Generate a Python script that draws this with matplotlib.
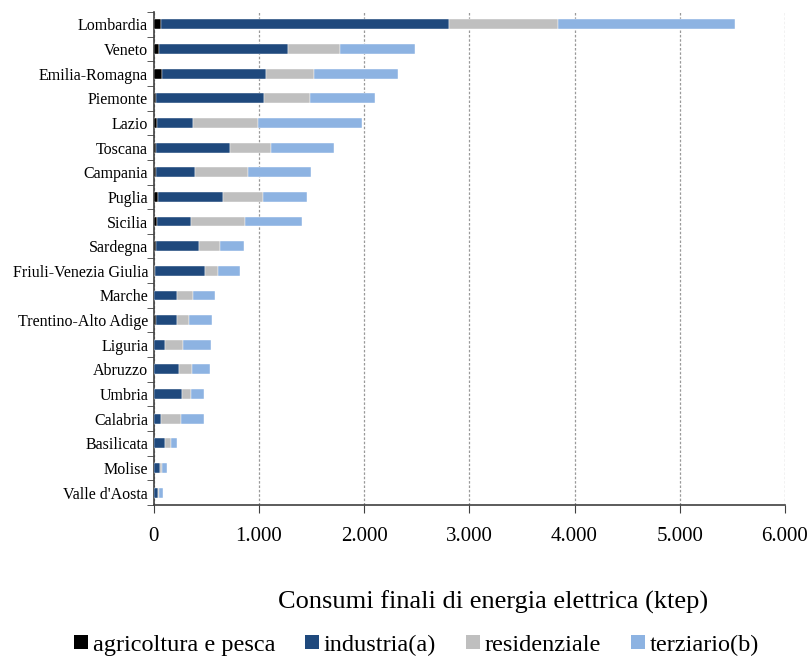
import matplotlib.pyplot as plt
from matplotlib.patches import Patch
from matplotlib.ticker import FuncFormatter, FixedLocator
import numpy as np

plt.rcParams['font.family'] = ['Liberation Serif', 'DejaVu Serif']

regioni = ["Lombardia", "Veneto", "Emilia-Romagna", "Piemonte", "Lazio", "Toscana",
           "Campania", "Puglia", "Sicilia", "Sardegna", "Friuli-Venezia Giulia",
           "Marche", "Trentino-Alto Adige", "Liguria", "Abruzzo", "Umbria",
           "Calabria", "Basilicata", "Molise", "Valle d'Aosta"]
agricoltura = [69, 50, 79, 22, 31, 22, 22, 44, 34, 18, 12, 6, 20, 4, 6, 6, 5, 4, 3, 2]
industria = [2738, 1227, 989, 1027, 343, 703, 371, 615, 321, 413, 476, 219, 198, 100, 238, 263, 64, 106, 54, 36]
residenziale = [1033, 491, 453, 434, 615, 387, 506, 377, 510, 196, 123, 146, 115, 172, 117, 89, 188, 52, 25, 12]
terziario = [1689, 716, 804, 624, 991, 599, 593, 418, 542, 231, 206, 215, 221, 269, 174, 117, 218, 59, 42, 35]

serie = [("agricoltura e pesca", agricoltura, "#000000"),
         ("industria(a)", industria, "#1F497D"),
         ("residenziale", residenziale, "#BFBFBF"),
         ("terziario(b)", terziario, "#8DB3E2")]

fig = plt.figure(figsize=(8.09, 6.57), dpi=100)
ax = fig.add_axes([0.190, 0.2314, 0.7803, 0.7503])

y = np.arange(len(regioni))
left = np.zeros(len(regioni))
for nome, vals, col in serie:
    ax.barh(y, vals, left=left, height=0.4, color=col, edgecolor="white", linewidth=0.3, zorder=3)
    left += np.array(vals)

ax.set_ylim(len(regioni) - 0.5, -0.5)
ax.set_xlim(0, 6000)
ax.set_yticks(y)
ax.set_yticklabels(regioni, fontsize=11.5)
ax.tick_params(axis="y", length=0, pad=4)
ax.yaxis.set_minor_locator(FixedLocator(np.arange(-0.5, len(regioni), 1)))
ax.tick_params(axis="y", which="minor", length=5, direction="out", color="#404040")

ax.set_xticks(np.arange(0, 6001, 1000))
ax.xaxis.set_major_formatter(FuncFormatter(lambda v, p: f"{int(v):,}".replace(",", ".")))
ax.tick_params(axis="x", labelsize=15, length=6, direction="out", color="#404040", pad=10)

ax.grid(axis="x", linestyle=(0, (2, 1.5)), color="#999999", linewidth=0.9, zorder=0)
for s in ["top", "right"]:
    ax.spines[s].set_visible(False)
for s in ["left", "bottom"]:
    ax.spines[s].set_color("#404040")
    ax.spines[s].set_linewidth(1.2)

fig.text(0.609, 0.083, "Consumi finali di energia elettrica (ktep)", fontsize=19,
         ha="center", va="center")

handles = [Patch(facecolor=c, edgecolor="none") for _, _, c in serie]
fig.legend(handles, [n for n, _, _ in serie], loc="center", bbox_to_anchor=(0.515, 0.018),
           ncol=4, frameon=False, fontsize=17.5, handlelength=0.55, handleheight=0.55,
           handletextpad=0.2, columnspacing=1.25, borderpad=0)

fig.savefig("out.png", dpi=100)
